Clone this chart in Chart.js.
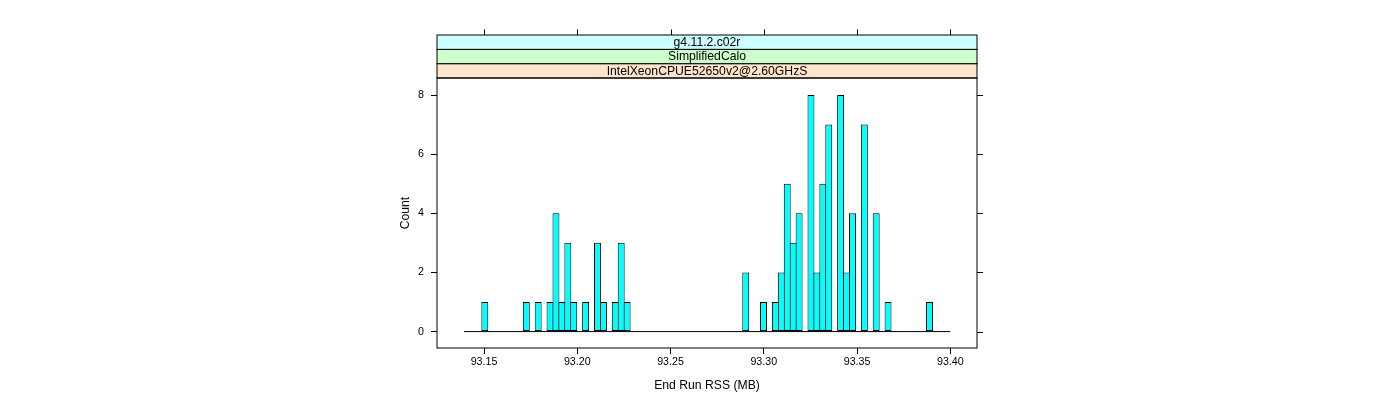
<!DOCTYPE html>
<html><head><meta charset="utf-8">
<script src="https://cdn.jsdelivr.net/npm/chart.js@4.4.1/dist/chart.umd.min.js"></script>
<style>html,body{margin:0;padding:0;background:#fff}#wrap{width:1400px;height:400px;position:relative}</style>
</head><body><div id="wrap"><canvas id="c"></canvas></div>
<script>
// Histogram breaks (first and last) and counts per bin
const breakStart = 93.1393;
const breakEnd = 93.4000;
const counts = [
  0,0,0,1,0,0,0,0,0,0,
  1,0,1,0,1,4,1,3,1,0,
  1,0,3,1,0,1,3,1,0,0,
  0,0,0,0,0,0,0,0,0,0,
  0,0,0,0,0,0,0,2,0,0,
  1,0,1,2,5,3,4,0,8,2,
  5,7,0,8,2,4,0,7,0,4,
  0,1,0,0,0,0,0,0,1,0,
  0,0
];
const xTicks = [93.15, 93.20, 93.25, 93.30, 93.35, 93.40];
const yTicks = [0, 2, 4, 6, 8];
const xRange = [93.1248, 93.4143];
const yRange = [-0.555, 8.575];
const stripLabels = ['IntelXeonCPUE52650v2@2.60GHzS', 'SimplifiedCalo', 'g4.11.2.c02r']; // bottom to top
const stripColors = ['#ffe5cc', '#ccffcc', '#ccffff'];
const xTitle = 'End Run RSS (MB)';
const yTitle = 'Count';

const FONT = '"Liberation Sans", Arial, Helvetica, sans-serif';
Chart.defaults.font.family = FONT;
Chart.defaults.color = '#000';

const binWidth = (breakEnd - breakStart) / counts.length;
const barData = counts.map((c, i) => ({ x: breakStart + (i + 0.5) * binWidth, y: c }));

const deco = {
  id: 'deco',
  afterDraw(chart) {
    const { ctx, chartArea: a, scales: { x, y } } = chart;
    const sh = 14.33;
    const w = a.right - a.left;
    ctx.save();
    ctx.lineWidth = 1;
    ctx.strokeStyle = '#000';
    for (let k = 0; k < stripLabels.length; k++) {
      const top = a.top - (k + 1) * sh;
      ctx.fillStyle = stripColors[k];
      ctx.fillRect(a.left, top, w, sh);
      ctx.strokeRect(a.left, top, w, sh);
      ctx.fillStyle = '#000';
      ctx.font = '12.2px ' + FONT;
      ctx.textAlign = 'center';
      ctx.textBaseline = 'middle';
      ctx.fillText(stripLabels[k], (a.left + a.right) / 2, top + sh / 2 + 0.5);
    }
    ctx.strokeRect(a.left, a.top, w, a.bottom - a.top);
    const stripTop = a.top - stripLabels.length * sh;
    ctx.beginPath();
    xTicks.forEach(v => {
      const px = Math.round(x.getPixelForValue(v)) + 0.5;
      ctx.moveTo(px, stripTop);
      ctx.lineTo(px, stripTop - 5.5);
    });
    yTicks.forEach(v => {
      const py = Math.round(y.getPixelForValue(v)) + 0.5;
      ctx.moveTo(a.right, py);
      ctx.lineTo(a.right + 6, py);
    });
    ctx.stroke();
    ctx.restore();
  }
};

new Chart(document.getElementById('c'), {
  data: {
    datasets: [
      {
        type: 'bar', data: barData,
        backgroundColor: '#00ffff', borderColor: '#000',
        borderWidth: c => (c.raw && c.raw.y === 0 ? 0 : 1),
        inflateAmount: 0,
        borderSkipped: false, barPercentage: 1.17, categoryPercentage: 1, grouped: false, order: 1
      },
      {
        type: 'line', data: [{ x: breakStart, y: 0 }, { x: breakEnd, y: 0 }],
        borderColor: '#000', borderWidth: 1, pointRadius: 0, fill: false, order: 2
      }
    ]
  },
  options: {
    responsive: true, maintainAspectRatio: false, animation: false,
    layout: { padding: { left: 398, right: 423, top: 78, bottom: 0 } },
    plugins: { legend: { display: false }, tooltip: { enabled: false } },
    scales: {
      x: {
        type: 'linear', min: xRange[0], max: xRange[1], offset: false,
        afterBuildTicks(s) { s.ticks = xTicks.map(v => ({ value: v })); },
        afterFit(s) { s.height = 52; },
        ticks: { callback: v => v.toFixed(2), font: { size: 10.7 }, color: '#000', padding: 2, maxRotation: 0, autoSkip: false },
        grid: { display: true, offset: false, drawOnChartArea: false, drawTicks: true, tickLength: 6, tickColor: '#000', lineWidth: 1 },
        border: { display: false },
        title: { display: true, text: xTitle, font: { size: 12.2 }, color: '#000', padding: { top: 0, bottom: 7 } }
      },
      y: {
        type: 'linear', min: yRange[0], max: yRange[1],
        afterBuildTicks(s) { s.ticks = yTicks.map(v => ({ value: v })); },
        afterFit(s) { s.width = 39; },
        ticks: { font: { size: 10.7 }, color: '#000', padding: 7, autoSkip: false },
        grid: { display: true, offset: false, drawOnChartArea: false, drawTicks: true, tickLength: 6, tickColor: '#000', lineWidth: 1 },
        border: { display: false },
        title: { display: true, text: yTitle, font: { size: 12.2 }, color: '#000', padding: 0 }
      }
    }
  },
  plugins: [deco]
});
</script>
</body></html>
